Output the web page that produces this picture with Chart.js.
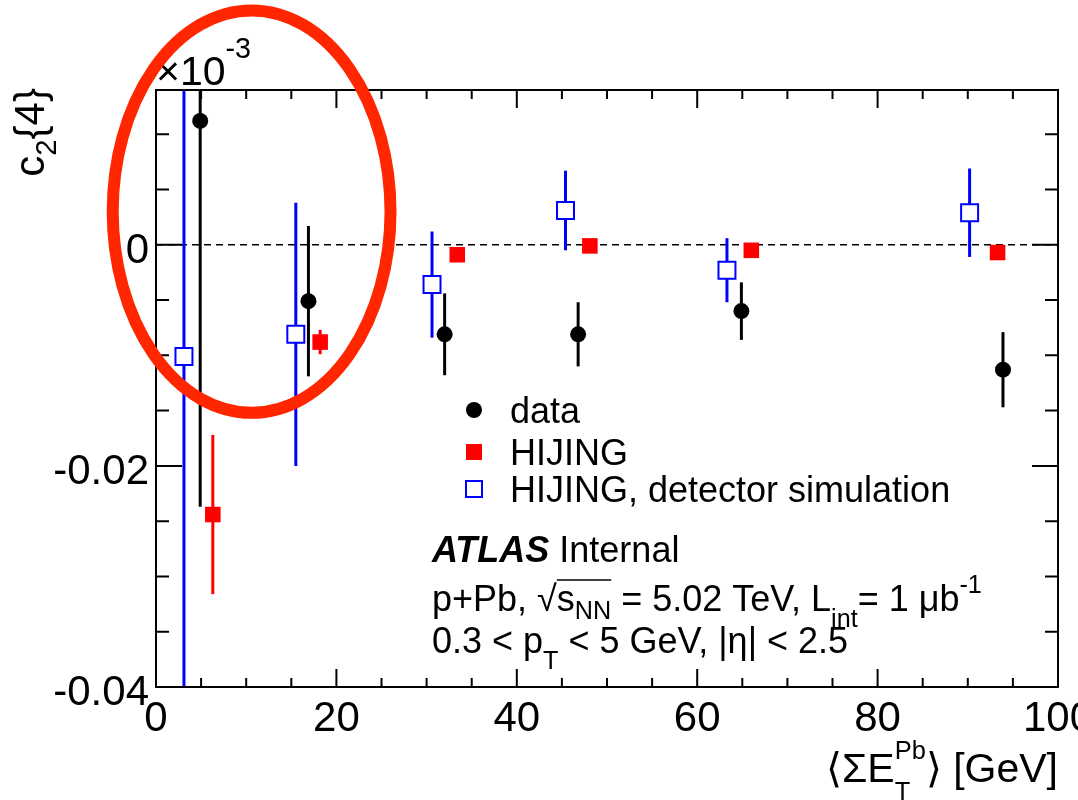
<!DOCTYPE html>
<html>
<head>
<meta charset="utf-8">
<script src="https://cdn.jsdelivr.net/npm/chart.js@4.4.1/dist/chart.umd.min.js"></script>
<style>
  html, body { margin: 0; padding: 0; background: #fff; }
</style>
</head>
<body>
<canvas id="c2Chart" width="1078" height="800"></canvas>
<script>
// c2{4} vs <Sum ET Pb> (GeV); values as read on the axis (x10^-3 label kept as in the plot)
var dataX = [4.9, 16.9, 32.0, 46.8, 64.9, 93.9];
var dataY = [0.0112, -0.0051, -0.0081, -0.0081, -0.0060, -0.0113];
var dataErr = [0.0349, 0.0068, 0.0037, 0.0029, 0.0026, 0.0034];

var hijingX = [6.3, 18.2, 33.4, 48.1, 66.0, 93.3];
var hijingY = [-0.0244, -0.0088, -0.0009, -0.0001, -0.0005, -0.0007];
var hijingErr = [0.0072, 0.0011, 0.0003, 0.0003, 0.0003, 0.0003];

var simX = [3.1, 15.5, 30.6, 45.4, 63.3, 90.2];
var simY = [-0.0101, -0.0081, -0.0036, 0.0031, -0.0023, 0.0029];
var simErr = [0.035, 0.0119, 0.0048, 0.0036, 0.0029, 0.0040];

var xTickValues = [0, 20, 40, 60, 80, 100];
var xTickLabels = ['0', '20', '40', '60', '80', '100'];
var yTickValues = [0, -0.02, -0.04];
var yTickLabels = ['0', '-0.02', '-0.04'];

var legendLabels = ['data', 'HIJING', 'HIJING, detector simulation'];

// hand-drawn highlight ellipse, in axis units
var ringCenter = [10.6, 0.0030];
var ringRadius = [15.4, 0.0182];

var FONT = '"Liberation Sans", Arial, Helvetica, sans-serif';

function setFont(ctx, size, style) {
    ctx.font = (style || '') + ' ' + size + 'px ' + FONT;
}

function toPoints(xs, ys) {
    return xs.map(function(x, i) { return { x: x, y: ys[i] }; });
}

// draws text with simple sub/superscripts, returns its width
function drawRich(ctx, parts, x, y, size, dry) {
    var cx = x, ovStart = x;
    parts.forEach(function(p) {
        var txt = p[0], kind = p[1] || '', off = p[2];
        if (kind === 'ovs') { ovStart = cx; return; }
        if (kind === 'ove') {
            if (!dry) {
                ctx.save();
                ctx.lineWidth = 1.5;
                ctx.beginPath();
                ctx.moveTo(ovStart, y - size * 0.86);
                ctx.lineTo(cx, y - size * 0.86);
                ctx.stroke();
                ctx.restore();
            }
            return;
        }
        if (kind === '_^') {
            setFont(ctx, size * 0.62);
            var w = Math.max(ctx.measureText(txt[0]).width, ctx.measureText(txt[1]).width);
            if (!dry) {
                ctx.fillText(txt[0], cx, y + size * 0.45);
                ctx.fillText(txt[1], cx, y - size * 0.55);
            }
            cx += w;
            return;
        }
        var fs = size, dy = 0, style = '';
        if (kind === '_') { fs = size * 0.7; dy = size * (off !== undefined ? off : 0.25); }
        if (kind === '^') { fs = size * 0.7; dy = -size * (off !== undefined ? off : 0.45); }
        if (kind === 'b') style = 'italic bold';
        setFont(ctx, fs, style);
        if (!dry) ctx.fillText(txt, cx, y + dy);
        cx += ctx.measureText(txt).width;
    });
    return cx - x;
}

var errorBars = {
    id: 'errorBars',
    beforeDatasetsDraw: function(chart) {
        var ctx = chart.ctx, area = chart.chartArea;
        var xs = chart.scales.x, ys = chart.scales.y;
        ctx.save();
        ctx.beginPath();
        ctx.rect(area.left, area.top, area.right - area.left, area.bottom - area.top);
        ctx.clip();

        // dashed zero line
        ctx.strokeStyle = '#000';
        ctx.lineWidth = 1.5;
        ctx.setLineDash([7, 5]);
        ctx.beginPath();
        ctx.moveTo(area.left, ys.getPixelForValue(0));
        ctx.lineTo(area.right, ys.getPixelForValue(0));
        ctx.stroke();
        ctx.setLineDash([]);

        chart.data.datasets.forEach(function(ds) {
            ctx.strokeStyle = ds.barColor;
            ctx.lineWidth = 3;
            ds.data.forEach(function(pt, i) {
                var px = xs.getPixelForValue(pt.x);
                ctx.beginPath();
                ctx.moveTo(px, ys.getPixelForValue(pt.y + ds.errors[i]));
                ctx.lineTo(px, ys.getPixelForValue(pt.y - ds.errors[i]));
                ctx.stroke();
            });
        });
        ctx.restore();
    }
};

var rootFrame = {
    id: 'rootFrame',
    afterDraw: function(chart) {
        var ctx = chart.ctx, a = chart.chartArea;
        var xs = chart.scales.x, ys = chart.scales.y;
        ctx.save();
        ctx.fillStyle = '#000';
        ctx.strokeStyle = '#000';

        // frame
        ctx.lineWidth = 2;
        ctx.strokeRect(a.left, a.top, a.right - a.left, a.bottom - a.top);

        // x ticks, every 5, long every 20
        for (var i = 0; i <= 20; i++) {
            var px = xs.getPixelForValue(i * 5);
            var len = i % 4 === 0 ? 18 : 9;
            ctx.beginPath();
            ctx.moveTo(px, a.bottom); ctx.lineTo(px, a.bottom - len);
            ctx.moveTo(px, a.top); ctx.lineTo(px, a.top + len);
            ctx.stroke();
        }
        // y ticks, every 0.005, long every 0.02
        for (var j = -8; j <= 2; j++) {
            var py = ys.getPixelForValue(j * 0.005);
            var l = j % 4 === 0 ? 26 : 13;
            ctx.beginPath();
            ctx.moveTo(a.left, py); ctx.lineTo(a.left + l, py);
            ctx.moveTo(a.right, py); ctx.lineTo(a.right - l, py);
            ctx.stroke();
        }

        // tick labels
        setFont(ctx, 42);
        ctx.textBaseline = 'alphabetic';
        ctx.textAlign = 'center';
        xTickValues.forEach(function(v, k) {
            ctx.fillText(xTickLabels[k], xs.getPixelForValue(v), 731);
        });
        ctx.textAlign = 'right';
        yTickValues.forEach(function(v, k) {
            ctx.fillText(yTickLabels[k], 149, ys.getPixelForValue(v) + 18);
        });
        ctx.textAlign = 'left';

        // exponent label
        drawRich(ctx, [['\u00d710'], ['-3', '^', 0.66]], a.left, 85, 41);

        // x title, right aligned
        var xTitle = [['\u27e8\u03a3E'], [['T', 'Pb'], '_^'], ['\u27e9 [GeV]']];
        var wx = drawRich(ctx, xTitle, 0, 0, 41, true);
        drawRich(ctx, xTitle, a.right - wx, 782, 41);

        // y title, rotated, right aligned at the top
        var yTitle = [['c'], ['2', '_', 0.28], ['{4}']];
        var wy = drawRich(ctx, yTitle, 0, 0, 42, true);
        ctx.save();
        ctx.translate(44, a.top - 2);
        ctx.rotate(-Math.PI / 2);
        drawRich(ctx, yTitle, -wy, 0, 42);
        ctx.restore();

        // legend
        var lx = 474, rows = [410, 452, 489];
        ctx.beginPath();
        ctx.arc(lx, rows[0], 8, 0, Math.PI * 2);
        ctx.fill();
        ctx.fillStyle = '#ff0000';
        ctx.fillRect(lx - 8, rows[1] - 8, 16, 16);
        ctx.strokeStyle = '#0000ff';
        ctx.lineWidth = 2;
        ctx.strokeRect(lx - 8, rows[2] - 8, 16, 16);
        ctx.fillStyle = '#000';
        setFont(ctx, 36);
        legendLabels.forEach(function(t, k) {
            ctx.fillText(t, 510, rows[k] + 13);
        });

        // ATLAS label block
        ctx.strokeStyle = '#000';
        drawRich(ctx, [['ATLAS', 'b'], [' Internal']], 432, 562, 36);
        drawRich(ctx, [['p+Pb, \u221a'], ['', 'ovs'], ['s'], ['NN', '_', 0.22], ['', 'ove'],
            [' = 5.02 TeV, L'], ['int', '_', 0.45], ['= 1 \u03bcb'], ['-1', '^', 0.5]], 432, 611, 36);
        drawRich(ctx, [['0.3 < p'], ['T', '_', 0.45], [' < 5 GeV, |\u03b7| < 2.5']], 432, 653, 36);

        // red highlight ring
        var cx = xs.getPixelForValue(ringCenter[0]);
        var cy = ys.getPixelForValue(ringCenter[1]);
        var rx = xs.getPixelForValue(ringCenter[0] + ringRadius[0]) - cx;
        var ry = cy - ys.getPixelForValue(ringCenter[1] + ringRadius[1]);
        ctx.strokeStyle = 'rgb(255, 38, 0)';
        ctx.lineWidth = 12;
        ctx.beginPath();
        ctx.ellipse(cx, cy, rx, ry, 0, 0, Math.PI * 2);
        ctx.stroke();

        ctx.restore();
    }
};

var ctx = document.getElementById('c2Chart').getContext('2d');
var c2Chart = new Chart(ctx, {
    type: 'scatter',
    data: {
        datasets: [{
            label: 'HIJING, detector simulation',
            data: toPoints(simX, simY),
            errors: simErr,
            barColor: '#0000ff',
            pointStyle: 'rect',
            pointRadius: 12,
            backgroundColor: '#ffffff',
            borderColor: '#0000ff',
            borderWidth: 2
        }, {
            label: 'HIJING',
            data: toPoints(hijingX, hijingY),
            errors: hijingErr,
            barColor: '#ff0000',
            pointStyle: 'rect',
            pointRadius: 11,
            backgroundColor: '#ff0000',
            borderWidth: 0
        }, {
            label: 'data',
            data: toPoints(dataX, dataY),
            errors: dataErr,
            barColor: '#000000',
            pointStyle: 'circle',
            pointRadius: 8,
            backgroundColor: '#000000',
            borderWidth: 0
        }]
    },
    options: {
        responsive: false,
        animation: false,
        devicePixelRatio: 1,
        layout: { padding: { top: 90, right: 20, left: 0, bottom: 0 } },
        plugins: {
            legend: { display: false },
            tooltip: { enabled: false }
        },
        scales: {
            x: {
                type: 'linear', min: 0, max: 100,
                ticks: { display: false },
                grid: { display: false },
                border: { display: false },
                afterFit: function(s) { s.height = 113; }
            },
            y: {
                type: 'linear', min: -0.04, max: 0.014,
                ticks: { display: false },
                grid: { display: false },
                border: { display: false },
                afterFit: function(s) { s.width = 156; }
            }
        }
    },
    plugins: [errorBars, rootFrame]
});
</script>
</body>
</html>
